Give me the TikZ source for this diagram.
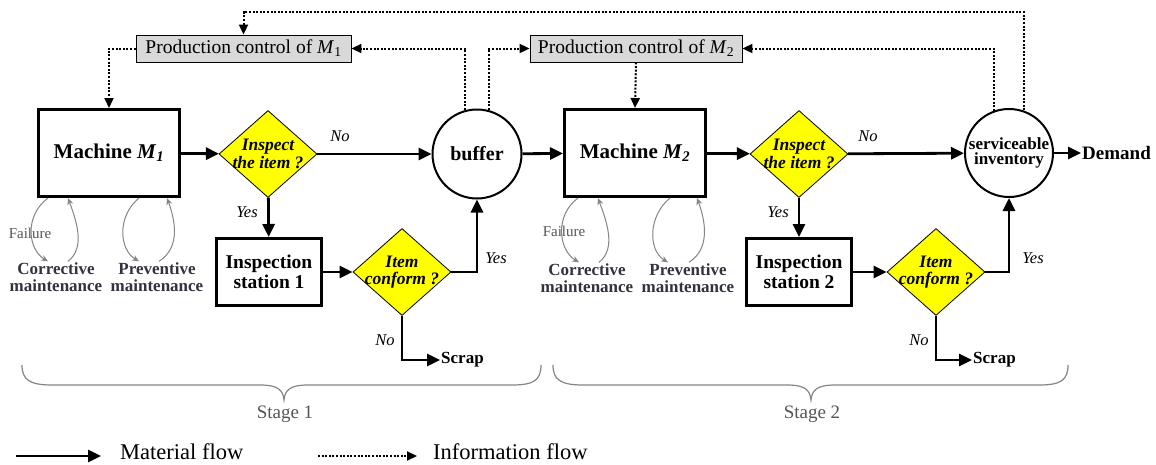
\documentclass[tikz,border=0pt]{standalone}
\usepackage{fontspec}
\setmainfont{Liberation Serif}
\usetikzlibrary{arrows.meta,shapes.geometric,calc}
\definecolor{dyellow}{HTML}{FFFF00}
\definecolor{pcgray}{HTML}{D9D9D9}
\definecolor{mgray}{HTML}{858585}
\definecolor{tgray}{HTML}{33333F}
\definecolor{sgray}{HTML}{555555}
\newcommand\setfs[1]{\fontsize{#1}{#1}\selectfont}
\begin{document}
\begin{tikzpicture}[x=1pt,y=-1pt,
  machine/.style={draw, line width=3pt, minimum width=141pt, minimum height=87pt, font=\setfs{21}\bfseries},
  station/.style={draw, line width=3pt, minimum width=105pt, minimum height=67pt, align=center, font=\setfs{19.5}\bfseries},
  decision/.style={diamond, draw, line width=0.8pt, fill=dyellow, minimum width=98pt, minimum height=87pt, inner sep=0pt},
  dtext/.style={align=center, font=\setfs{17.5}\bfseries\itshape, inner sep=0pt},
  store/.style={circle, draw, line width=2pt, inner sep=0pt, align=center},
  control/.style={draw, line width=0.9pt, fill=pcgray, minimum height=27pt, inner sep=2pt, font=\setfs{19.5}},
  mat/.style={line width=2.8pt, -{Triangle[length=13pt,width=12pt]}},
  info/.style={line width=2pt, dash pattern=on 2pt off 1.6pt, -{Triangle[length=10pt,width=9pt]}},
  maint/.style={draw=mgray, line width=1pt, -{Stealth[length=7pt,width=6pt]}},
  mtext/.style={align=center, font=\setfs{17}\bfseries, text=tgray, inner sep=1pt},
  lab/.style={font=\setfs{16.5}\itshape, inner sep=1pt},
  outtext/.style={font=\setfs{17}\bfseries, inner sep=1pt, anchor=west},
  failtext/.style={font=\setfs{15}, text=sgray, inner sep=0pt},
  stagebrace/.style={draw=mgray, line width=1.2pt},
  stagetext/.style={font=\setfs{19}, text=sgray},
  legtext/.style={font=\setfs{22.5}, anchor=west, inner sep=0pt}
]
\fill[white] (0,0) rectangle (1156,464);
\useasboundingbox (0,0) rectangle (1156,464);

% ---------- stage 1 ----------
\node[machine] (m1) at (109,153) {Machine \textit{M}\textsubscript{\textit{1}}};
\node[decision] (d1) at (268,154) {};
\node[dtext] (d1t) at (d1) {Inspect\\the item ?};
\node[store, minimum size=89pt, font=\setfs{20}\bfseries] (buf) at (477,154) {buffer};
\node[station] (is1) at (269,272) {Inspection\\station 1};
\node[decision] (c1) at (402,272) {};
\node[dtext] (c1t) at (c1) {Item\\conform ?};
\node[outtext] (scrap1) at (440,360) {Scrap};
\node[control, minimum width=215pt] (pc1) at (243.5,48.5) {Production control of \textit{M}\textsubscript{1}};

% ---------- stage 2 ----------
\node[machine] (m2) at (635,153) {Machine \textit{M}\textsubscript{\textit{2}}};
\node[decision] (d2) at (799,154) {};
\node[dtext] (d2t) at (d2) {Inspect\\the item ?};
\node[store, minimum size=88pt, font=\setfs{17}\bfseries] (inv) at (1009,153) {serviceable\\[-2pt]inventory};
\node[station] (is2) at (799,272) {Inspection\\station 2};
\node[decision] (c2) at (936,272) {};
\node[dtext] (c2t) at (c2) {Item\\conform ?};
\node[outtext] (scrap2) at (972,360) {Scrap};
\node[control, minimum width=212pt] (pc2) at (636,48.5) {Production control of \textit{M}\textsubscript{2}};
\node[outtext, font=\setfs{19}\bfseries] (demand) at (1081,153) {Demand};

% ---------- material flow ----------
\draw[mat] (m1) -- (d1);
\draw[mat] (d1) -- (buf);
\draw[mat] (d1) -- (is1);
\draw[mat] (is1) -- (c1);
\draw[mat] (c1.east) -| (buf.south);
\draw[mat] (c1.south) |- (scrap1.west);
\draw[mat] (buf) -- (m2);
\draw[mat] (m2) -- (d2);
\draw[mat] (d2) -- (inv);
\draw[mat] (d2) -- (is2);
\draw[mat] (is2) -- (c2);
\draw[mat] (c2.east) -| (inv.south);
\draw[mat] (c2.south) |- (scrap2.west);
\draw[mat] (inv) -- (demand);

% ---------- decision labels ----------
\node[lab] (no1) at (340,136) {No};
\node[lab] (yes1) at (247,212) {Yes};
\node[lab] (yes2) at (496,258) {Yes};
\node[lab] (no2) at (385,340) {No};
\node[lab] (no3) at (868,136) {No};
\node[lab] (yes3) at (778,212) {Yes};
\node[lab] (yes4) at (1033,258) {Yes};
\node[lab] (no4) at (919,340) {No};

% ---------- information flow ----------
\coordinate (topline) at (0,12);
\draw[info] (pc1.west) -| (m1.north);
\draw[info] (pc2.south) -- (m2.north);
\draw[info] (buf.105) |- (pc1.east);
\draw[info] (buf.75) |- (pc2.west);
\draw[info] (inv.110) |- (pc2.east);
\draw[info] (inv.71) |- (pc1.north |- topline) -- (pc1.north);

% ---------- maintenance loops ----------
\node[mtext] (corr1) at (56,277) {Corrective\\maintenance};
\node[mtext] (prev1) at (157,277) {Preventive\\maintenance};
\node[mtext] (corr2) at (587,278) {Corrective\\maintenance};
\node[mtext] (prev2) at (688,278) {Preventive\\maintenance};
\node[failtext] (fail1) at (30,233) {Failure};
\node[failtext] (fail2) at (564,231) {Failure};

\draw[maint] ([xshift=11pt]m1.south west) .. controls +(-24,18) and +(-20,-12) .. ([xshift=-8pt]corr1.north);
\draw[maint] ([xshift=12pt]corr1.north) .. controls +(18,-14) and +(8,22) .. ([xshift=31pt]m1.south west);
\draw[maint] ([xshift=30pt]m1.south) .. controls +(-22,18) and +(-20,-12) .. ([xshift=-18pt]prev1.north);
\draw[maint] ([xshift=2pt]prev1.north) .. controls +(22,-14) and +(8,22) .. ([xshift=58pt]m1.south);

\draw[maint] ([xshift=15pt]m2.south west) .. controls +(-24,18) and +(-20,-12) .. ([xshift=-8pt]corr2.north);
\draw[maint] ([xshift=12pt]corr2.north) .. controls +(18,-14) and +(8,22) .. ([xshift=35pt]m2.south west);
\draw[maint] ([xshift=35pt]m2.south) .. controls +(-22,18) and +(-20,-12) .. ([xshift=-20pt]prev2.north);
\draw[maint] ([xshift=1pt]prev2.north) .. controls +(22,-14) and +(8,22) .. ([xshift=62pt]m2.south);

% ---------- stage braces ----------
\draw[stagebrace] (22,365) .. controls (22,380) and (30,385) .. (52,385) -- (260,385)
  .. controls (278,385) and (283,390) .. (284,400)
  .. controls (285,390) and (290,385) .. (308,385) -- (512,385)
  .. controls (534,385) and (541,380) .. (541,365);
\draw[stagebrace] (553,365) .. controls (553,380) and (561,385) .. (583,385) -- (787,385)
  .. controls (805,385) and (810,390) .. (811,400)
  .. controls (812,390) and (817,385) .. (835,385) -- (1039,385)
  .. controls (1061,385) and (1068,380) .. (1068,365);
\node[stagetext] (st1) at (285,414) {Stage 1};
\node[stagetext] (st2) at (812,414) {Stage 2};

% ---------- legend ----------
\coordinate (lm1) at (16,456);
\coordinate (lm2) at (101,456);
\coordinate (li1) at (318,456);
\coordinate (li2) at (417,456);
\draw[mat] (lm1) -- (lm2);
\draw[info] (li1) -- (li2);
\node[legtext] (lmt) at (120,452) {Material flow};
\node[legtext] (lit) at (433,452) {Information flow};
\end{tikzpicture}
\end{document}
